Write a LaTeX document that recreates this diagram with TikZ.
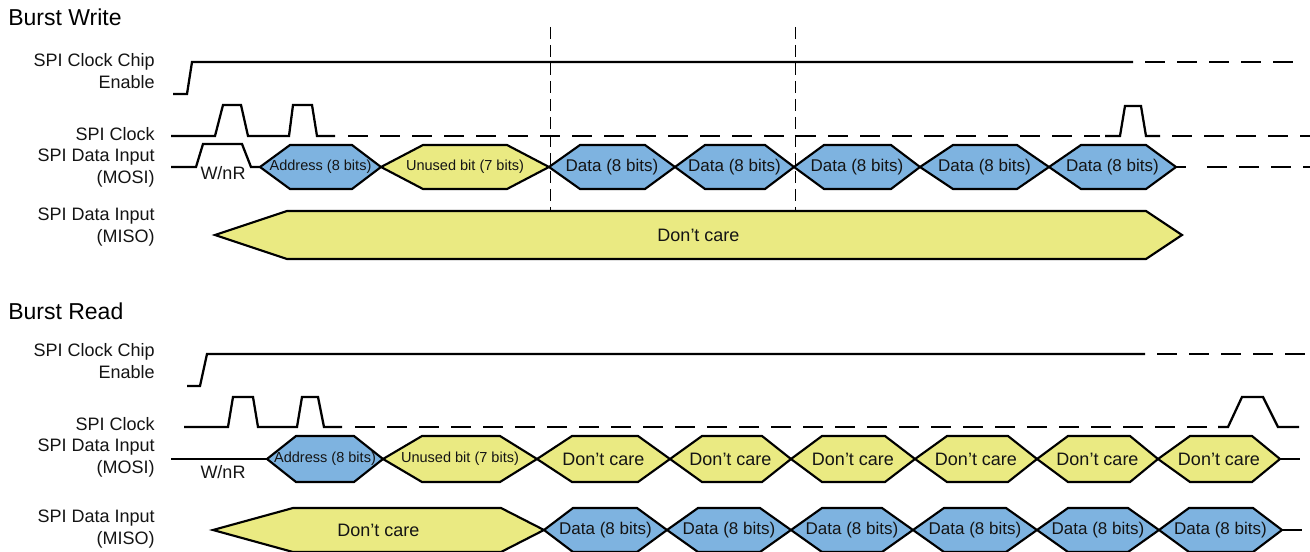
\documentclass[tikz,border=0pt]{standalone}
\usepackage{fontspec}
\setmainfont{Liberation Sans}
\definecolor{hexblue}{RGB}{126,179,224}
\definecolor{hexyellow}{RGB}{234,234,130}
\definecolor{txt}{RGB}{20,20,20}
\newcommand{\hexh}{22}
\newcommand{\hexsig}[9]{%
  \draw[#7] (#2,#6) -- ({#2+#4},{#6-\hexh}) -- ({#3-#5},{#6-\hexh}) -- (#3,#6) -- ({#3-#5},{#6+\hexh}) -- ({#2+#4},{#6+\hexh}) -- cycle;
  \node[#8] (#1) at ({(#2+#3)/2},#6) {#9};}
\begin{document}
\begin{tikzpicture}[x=0.75pt,y=-0.75pt,
  wave/.style={line width=1.7pt, black},
  wavedash/.style={wave, dash pattern=on 15pt off 9pt},
  guide/.style={line width=0.75pt, black, dash pattern=on 9pt off 4.5pt},
  hexb/.style={draw=black, line width=1.6pt, fill=hexblue},
  hexy/.style={draw=black, line width=1.6pt, fill=hexyellow},
  lbl/.style={anchor=east, align=right, inner sep=0pt, font=\fontsize{13.5}{16.5}\selectfont, text=txt},
  ttl/.style={anchor=west, inner sep=0pt, font=\fontsize{17.25}{20}\selectfont, text=black},
  dtxt/.style={inner sep=0pt, font=\fontsize{12.75}{15}\selectfont, text=txt},
  stxt/.style={inner sep=0pt, font=\fontsize{10.9}{13}\selectfont, text=txt},
  dctxt/.style={inner sep=0pt, font=\fontsize{13.5}{16}\selectfont, text=txt}]
\useasboundingbox (0,0) rectangle (1310,552);

% ---------------- Burst Write ----------------
\node[ttl] (tW) at (8,17.5) {Burst Write};
\node[lbl] (ceW) at (155,71) {SPI Clock Chip\\Enable};
\node[lbl] (clkW) at (155,134) {SPI Clock};
\node[lbl] (mosiW) at (155,168.5) {SPI Data Input\\(MOSI)};
\node[lbl] (misoW) at (155,227) {SPI Data Input\\(MISO)};

\draw[guide] (550,27) -- (550,211);
\draw[guide] (795,27) -- (795,211);

\draw[wave] (173,94) -- (187,94) -- (192,62) -- (1133,62);
\draw[wavedash] (1145,62) -- (1293,62);

\draw[wave] (171,136) -- (215,136) -- (223,105) -- (241,105) -- (248,136) -- (289,136) -- (293,105) -- (312,105) -- (317,136) -- (335,136);
\draw[wavedash] (348,136) -- (1100,136);
\draw[wave] (1105,136) -- (1120,136) -- (1125,106) -- (1141,106) -- (1146,136) -- (1160,136);
\draw[wavedash] (1172,136) -- (1310,136);

\draw[wave] (171,167) -- (196,167) -- (203,144) -- (242,144) -- (251,167) -- (260,167);
\node[dctxt] (wnrW) at (223,173) {W/nR};
\renewcommand{\hexh}{22}
\hexsig{addrW}{260}{381}{30}{29}{167}{hexb}{stxt}{Address (8 bits)}
\hexsig{unusedW}{381}{549}{42}{42}{167}{hexy}{stxt}{Unused bit (7 bits)}
\hexsig{dW1}{549}{675}{31}{30}{167}{hexb}{dtxt}{Data (8 bits)}
\hexsig{dW2}{675}{794}{30}{29}{167}{hexb}{dtxt}{Data (8 bits)}
\hexsig{dW3}{794}{920}{30}{29}{167}{hexb}{dtxt}{Data (8 bits)}
\hexsig{dW4}{920}{1049}{33}{32}{167}{hexb}{dtxt}{Data (8 bits)}
\hexsig{dW5}{1049}{1176}{32}{30}{167}{hexb}{dtxt}{Data (8 bits)}
\draw[wave] (1176,167) -- (1186,167);
\draw[wavedash] (1207,167) -- (1310,167);

\renewcommand{\hexh}{24}
\hexsig{dcW}{215}{1182}{72}{36}{235}{hexy}{dctxt}{Don’t care}

% ---------------- Burst Read ----------------
\node[ttl] (tR) at (8,311.5) {Burst Read};
\node[lbl] (ceR) at (155,361) {SPI Clock Chip\\Enable};
\node[lbl] (clkR) at (155,424) {SPI Clock};
\node[lbl] (mosiR) at (155,458.5) {SPI Data Input\\(MOSI)};
\node[lbl] (misoR) at (155,529.5) {SPI Data Input\\(MISO)};

\draw[wave] (187,386) -- (200,386) -- (207,354) -- (1145,354);
\draw[wavedash] (1157,354) -- (1307,354);

\draw[wave] (184,427) -- (228,427) -- (233,397) -- (253,397) -- (258,427) -- (297,427) -- (302,397) -- (318,397) -- (324,427) -- (342,427);
\draw[wavedash] (355,427) -- (1207,427);
\draw[wave] (1218,427) -- (1228,427) -- (1242,397) -- (1263,397) -- (1278,427) -- (1299,427);

\draw[wave] (171,459) -- (267,459);
\node[dctxt] (wnrR) at (223,472.5) {W/nR};
\renewcommand{\hexh}{23}
\hexsig{addrR}{267}{383}{29}{29}{459}{hexb}{stxt}{Address (8 bits)}
\hexsig{unusedR}{383}{537}{39}{37}{459}{hexy}{stxt}{Unused bit (7 bits)}
\hexsig{dcR1}{537}{670}{35}{32}{459}{hexy}{dctxt}{Don’t care}
\hexsig{dcR2}{670}{791}{32}{29}{459}{hexy}{dctxt}{Don’t care}
\hexsig{dcR3}{791}{915}{31}{30}{459}{hexy}{dctxt}{Don’t care}
\hexsig{dcR4}{915}{1037}{32}{29}{459}{hexy}{dctxt}{Don’t care}
\hexsig{dcR5}{1037}{1158}{31}{28}{459}{hexy}{dctxt}{Don’t care}
\hexsig{dcR6}{1158}{1280}{32}{28}{459}{hexy}{dctxt}{Don’t care}
\draw[wave] (1280,459) -- (1300,459);

\renewcommand{\hexh}{22}
\hexsig{dcR}{213}{544}{80}{43}{530}{hexy}{dctxt}{Don’t care}
\hexsig{dR1}{544}{667}{29}{30}{530}{hexb}{dtxt}{Data (8 bits)}
\hexsig{dR2}{667}{791}{31}{31}{530}{hexb}{dtxt}{Data (8 bits)}
\hexsig{dR3}{791}{913}{31}{31}{530}{hexb}{dtxt}{Data (8 bits)}
\hexsig{dR4}{913}{1037}{31}{31}{530}{hexb}{dtxt}{Data (8 bits)}
\hexsig{dR5}{1037}{1159}{31}{31}{530}{hexb}{dtxt}{Data (8 bits)}
\hexsig{dR6}{1159}{1282}{30}{29}{530}{hexb}{dtxt}{Data (8 bits)}
\draw[wave] (1282,530) -- (1302,530);
\end{tikzpicture}
\end{document}
